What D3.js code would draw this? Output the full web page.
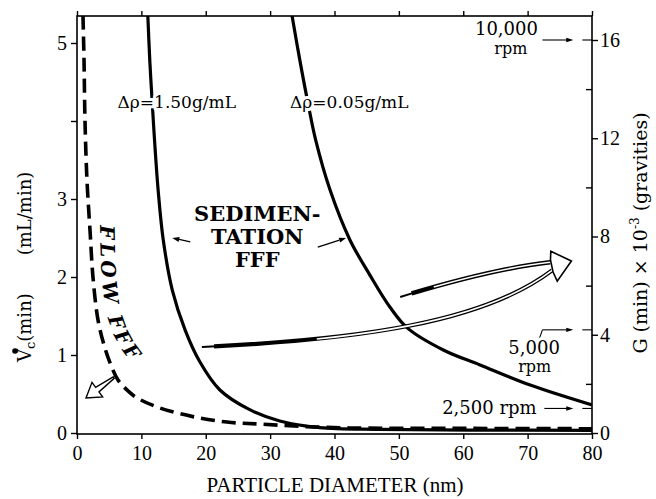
<!DOCTYPE html>
<html><head><meta charset="utf-8">
<script src="https://cdn.jsdelivr.net/npm/d3@7"></script>
<style>body{margin:0;background:#fff}svg{display:block}</style>
</head><body>
<svg id="chart" width="656" height="499"></svg>
<script>
// ---------- data ----------
const xTicks = [0, 10, 20, 30, 40, 50, 60, 70, 80];
const leftTicks = [0, 1, 2, 3, 4, 5];
const leftTickLabels = ["0", "1", "2", "3", "", "5"];
const rightMajorTicks = [0, 4, 8, 12, 16];
const rightMinorTicks = [2, 6, 10, 14];

// Sedimentation FFF, Δρ = 1.50 g/mL  (diameter nm, G x 10^-3)
const sed150Diameter = [11.0, 11.3, 11.65, 12.1, 12.6, 13.4, 14.8, 16.8, 19.1, 22.2, 26.6, 31.5, 37.7, 47.1, 61.0, 80.0];
const sed150G        = [17.0, 15.2, 13.6, 11.7, 9.9, 7.86, 5.82, 4.19, 2.89, 1.75, 0.98, 0.49, 0.22, 0.15, 0.12, 0.11];
// Sedimentation FFF, Δρ = 0.05 g/mL
const sed005Diameter = [33.4, 34.6, 35.9, 37.1, 39.3, 42.4, 45.5, 48.6, 51.3, 56.9, 62.6, 70.4, 80.0];
const sed005G        = [17.0, 15.2, 13.4, 11.9, 9.9, 7.86, 6.43, 5.13, 4.28, 3.38, 2.77, 1.95, 1.14];
// Flow FFF (diameter nm, V̇c(min) mL/min)
const flowDiameter = [0.93, 1.09, 1.24, 1.55, 2.02, 2.49, 3.26, 4.19, 5.13, 6.37, 7.92, 9.32, 12.9, 18.0, 23.3, 28.4, 34.6, 42.4, 57.9, 80.0];
const flowV        = [5.35, 4.78, 4.01, 3.24, 2.60, 1.99, 1.45, 1.13, 0.90, 0.68, 0.54, 0.45, 0.32, 0.21, 0.14, 0.115, 0.085, 0.065, 0.06, 0.055];

// rotor speed markers on the G axis
const rpmLabels = ["10,000", "5,000", "2,500"];
const rpmG = [16, 4.2, 1];

// ---------- layout ----------
const svg = d3.select("#chart");
const L = 77, R = 592, T = 16, B = 434;
const x = d3.scaleLinear().domain([0, 80]).range([L, R]);
const yV = d3.scaleLinear().domain([0, 5]).range([433, 43]);
const yG = d3.scaleLinear().domain([0, 16]).range([433, 40]);
const serif = "'Liberation Serif','Times New Roman',serif";
const wide = "'DejaVu Serif',serif";

svg.append("rect").attr("width", 656).attr("height", 499).attr("fill", "#fff");
svg.append("clipPath").attr("id", "clip").append("rect")
  .attr("x", L).attr("y", T).attr("width", R - L).attr("height", B - T);

// ---------- curves ----------
const gLine = d3.line().x(d => x(d[0])).y(d => yG(d[1])).curve(d3.curveCatmullRom.alpha(0.5));
const vLine = d3.line().x(d => x(d[0])).y(d => yV(d[1])).curve(d3.curveCatmullRom.alpha(0.5));
const curves = svg.append("g").attr("clip-path", "url(#clip)");
curves.append("path").datum(d3.zip(sed150Diameter, sed150G)).attr("d", gLine)
  .attr("fill", "none").attr("stroke", "#000").attr("stroke-width", 3.2);
curves.append("path").datum(d3.zip(sed005Diameter, sed005G)).attr("d", gLine)
  .attr("fill", "none").attr("stroke", "#000").attr("stroke-width", 3.2);
curves.append("path").datum(d3.zip(flowDiameter, flowV)).attr("d", vLine)
  .attr("fill", "none").attr("stroke", "#000").attr("stroke-width", 3.6)
  .attr("stroke-dasharray", "14,7");

// ---------- axes ----------
function styleAxis(g) {
  g.select(".domain").remove();
  g.selectAll("line").attr("stroke", "#000").attr("stroke-width", 1.4);
  g.selectAll("text").attr("font-family", serif).attr("font-size", 20).attr("fill", "#000");
}
svg.append("g").attr("transform", `translate(0,${B})`)
  .call(d3.axisBottom(x).tickValues(xTicks).tickSize(5).tickPadding(7).tickFormat(d3.format("d")))
  .call(styleAxis);
svg.append("g").attr("transform", `translate(0,${T})`)
  .call(d3.axisTop(x).tickValues(xTicks).tickSize(5).tickFormat(""))
  .call(styleAxis);
svg.append("g").attr("transform", `translate(${L},0)`)
  .call(d3.axisLeft(yV).tickValues(leftTicks).tickSize(6).tickPadding(4).tickFormat((d, i) => leftTickLabels[i]))
  .call(styleAxis);
svg.append("g").attr("transform", `translate(${R},0)`)
  .call(d3.axisRight(yG).tickValues(rightMajorTicks).tickSize(6).tickPadding(2).tickFormat(d3.format("d")))
  .call(styleAxis);
svg.append("g").attr("transform", `translate(${R},0)`)
  .call(d3.axisRight(yG).tickValues(rightMinorTicks).tickSize(-6).tickFormat(""))
  .call(styleAxis);
svg.append("rect").attr("x", L).attr("y", T).attr("width", R - L).attr("height", B - T)
  .attr("fill", "none").attr("stroke", "#000").attr("stroke-width", 1.6);

// ---------- axis titles ----------
svg.append("text").attr("x", 335).attr("y", 492).attr("text-anchor", "middle")
  .attr("font-family", serif).attr("font-size", 21).text("PARTICLE DIAMETER (nm)");

const lt = svg.append("text").attr("transform", "translate(31,362) rotate(-90)")
  .attr("font-family", wide).attr("font-size", 18);
lt.append("tspan").text("V");
lt.append("tspan").attr("font-size", 13).attr("dy", 4).text("c");
lt.append("tspan").attr("dy", -4).text("(min)");
lt.append("tspan").attr("dx", 38).text("(mL/min)");
svg.append("circle").attr("cx", 15).attr("cy", 351).attr("r", 2.8).attr("fill", "#000");

const rt = svg.append("text").attr("transform", "translate(647,233) rotate(-90)")
  .attr("text-anchor", "middle").attr("font-family", wide).attr("font-size", 19);
rt.append("tspan").text("G (min) × 10");
rt.append("tspan").attr("font-size", 12).attr("dy", -8).text("-3");
rt.append("tspan").attr("dy", 8).text(" (gravities)");

// ---------- annotations ----------
const ann = svg.append("g");
function halo(sel) { return sel.attr("stroke", "#fff").attr("stroke-width", 6).attr("paint-order", "stroke").attr("stroke-linejoin", "round"); }
halo(ann.append("text").attr("x", x(6.3)).attr("y", yG(13.25)).attr("font-family", wide).attr("font-size", 17).text("Δρ=1.50g/mL"));
halo(ann.append("text").attr("x", x(33.1)).attr("y", yG(13.25)).attr("font-family", wide).attr("font-size", 17).text("Δρ=0.05g/mL"));

const sedLines = ["SEDIMEN-", "TATION", "FFF"];
const sedG = [8.63, 7.70, 6.76];
sedLines.forEach((s, i) => ann.append("text").attr("x", x(28.0)).attr("y", yG(sedG[i]))
  .attr("text-anchor", "middle").attr("font-family", wide).attr("font-weight", "bold").attr("font-size", 21).text(s));

function solidArrow(from, to, headL, headW) {
  const [x0, y0] = from, [x1, y1] = to;
  const len = Math.hypot(x1 - x0, y1 - y0), ux = (x1 - x0) / len, uy = (y1 - y0) / len;
  const bx = x1 - ux * headL, by = y1 - uy * headL;
  ann.append("line").attr("x1", x0).attr("y1", y0).attr("x2", bx).attr("y2", by).attr("stroke", "#000").attr("stroke-width", 1.3);
  ann.append("polygon").attr("points", [[x1, y1], [bx - uy * headW, by + ux * headW], [bx + uy * headW, by - ux * headW]].join(" ")).attr("fill", "#000");
}
solidArrow([x(17.6), yG(7.78)], [x(14.8), yG(7.94)], 7, 2.6);
solidArrow([x(37.4), yG(7.57)], [x(41.8), yG(7.94)], 7, 2.6);

// Flow FFF label along the dashed curve
const flowTextPts = [[3.57, 2.66], [3.9, 1.96], [4.8, 1.47], [6.6, 1.12], [9.8, 0.78], [13, 0.58]];
svg.append("path").attr("id", "flowPath").attr("fill", "none")
  .attr("d", d3.line().x(d => x(d[0])).y(d => yV(d[1])).curve(d3.curveCatmullRom)(flowTextPts));
ann.append("text").attr("font-family", wide).attr("font-weight", "bold").attr("font-style", "italic")
  .attr("font-size", 20).attr("letter-spacing", 3.5)
  .append("textPath").attr("href", "#flowPath").attr("startOffset", 0).text("FLOW FFF");

// hollow arrow for flow FFF
function hollowArrow(tail, tip, shaftW, headW, headL) {
  const dx = tip[0] - tail[0], dy = tip[1] - tail[1], len = Math.hypot(dx, dy);
  const ux = dx / len, uy = dy / len, nx = -uy, ny = ux;
  const neck = [tip[0] - ux * headL, tip[1] - uy * headL];
  const p = (b, s, w) => [b[0] + nx * w * s, b[1] + ny * w * s];
  return [p(tail, 1, shaftW * 0.3), p(neck, 1, shaftW), p(neck, 1, headW), tip, p(neck, -1, headW), p(neck, -1, shaftW), p(tail, -1, shaftW * 0.3)];
}
ann.append("polygon").attr("points", hollowArrow([x(5.7), yV(0.71)], [x(1.4), yV(0.45)], 2.8, 9, 14).join(" "))
  .attr("fill", "#fff").attr("stroke", "#000").attr("stroke-width", 1.4).attr("stroke-linejoin", "miter");

// big double hollow arrow
function bez(p) {
  const q = p.map(d => [x(d[0]), yG(d[1])]);
  const path = d3.path();
  path.moveTo(...q[0]); path.bezierCurveTo(...q[1], ...q[2], ...q[3]);
  return path.toString();
}
const lowerShaft = [[19.4, 3.50], [42.4, 3.79], [62.6, 4.40], [73.8, 6.62]];
const upperShaft = [[50.2, 5.54], [57.9, 6.15], [65.7, 6.72], [73.5, 6.95]];
[[lowerShaft, 115, 4.2], [upperShaft, 35, 4.4]].forEach(([pts, off, sw]) => {
  const dStr = bez(pts);
  const blk = ann.append("path").attr("d", dStr).attr("fill", "none").attr("stroke", "#000").attr("stroke-width", sw);
  const tl = blk.node().getTotalLength();
  blk.attr("stroke-dasharray", `0,12,${tl}`);
  ann.append("path").attr("d", dStr).attr("fill", "none").attr("stroke", "#000").attr("stroke-width", 2)
    .attr("stroke-dasharray", `14,${tl}`);
  ann.append("path").attr("d", dStr).attr("fill", "none").attr("stroke", "#fff").attr("stroke-width", 1.6)
    .attr("stroke-dasharray", `0,${off},${tl}`);
});
const head = [[76.8, 7.0], [73.6, 7.4], [73.55, 7.05], [73.95, 6.55], [74.6, 6.18]];
ann.append("polygon").attr("points", head.map(d => [x(d[0]), yG(d[1])]).join(" "))
  .attr("fill", "#fff").attr("stroke", "#000").attr("stroke-width", 1.6).attr("stroke-linejoin", "miter");

// rpm markers
rpmG.forEach((g, i) => {
  const yA = yG(g);
  ann.append("line").attr("x1", i === 2 ? x(72.6) : x(72.3)).attr("x2", x(76.5)).attr("y1", yA).attr("y2", yA).attr("stroke", "#000").attr("stroke-width", 1.1);
  ann.append("polygon").attr("points", [[x(77.1), yA], [x(76.0), yA - 2.2], [x(76.0), yA + 2.2]].join(" ")).attr("fill", "#000");
  ann.append("line").attr("x1", x(78.5)).attr("x2", x(80)).attr("y1", yA).attr("y2", yA).attr("stroke", "#000").attr("stroke-width", 1.1);
});
const yA0 = yG(rpmG[0]), yA1 = yG(rpmG[1]), yA2 = yG(rpmG[2]);
ann.append("text").attr("x", x(71.6)).attr("y", yA0 - 5).attr("text-anchor", "end").attr("font-family", wide).attr("font-size", 18).text(rpmLabels[0]);
ann.append("text").attr("x", x(67.4)).attr("y", yA0 + 14).attr("text-anchor", "middle").attr("font-family", wide).attr("font-size", 16).text("rpm");
ann.append("polyline").attr("points", [[x(71.7), yA1 + 11], [x(72.3), yA1]].join(" ")).attr("fill", "none").attr("stroke", "#000").attr("stroke-width", 1.1);
halo(ann.append("text").attr("x", x(71.0)).attr("y", yA1 + 24).attr("text-anchor", "middle").attr("font-family", wide).attr("font-size", 18).text(rpmLabels[1]));
halo(ann.append("text").attr("x", x(71.1)).attr("y", yA1 + 42).attr("text-anchor", "middle").attr("font-family", wide).attr("font-size", 16).text("rpm"));
halo(ann.append("text").attr("x", x(71.4)).attr("y", yA2 + 6).attr("text-anchor", "end").attr("font-family", wide).attr("font-size", 18).text(rpmLabels[2] + " rpm"));
</script>
</body></html>
